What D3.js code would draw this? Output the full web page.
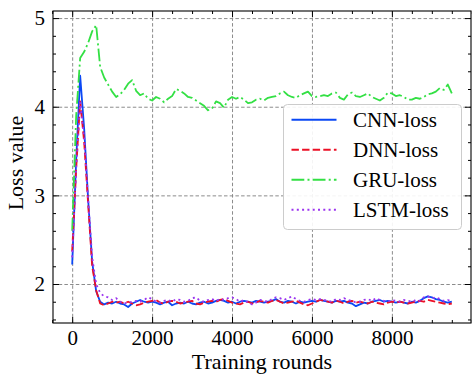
<!DOCTYPE html>
<html>
<head>
<meta charset="utf-8">
<script src="https://d3js.org/d3.v7.min.js"></script>
<style>
  body { margin: 0; background: #fff; }
  svg { display: block; font-family: "Liberation Serif", "DejaVu Serif", serif; }
</style>
</head>
<body>
<div id="chart"></div>
<script>
// training rounds, sampled every 100
const rounds = d3.range(0, 9501, 100);

const cnnLoss = [2.22, 3.40, 4.35, 3.75, 2.95, 2.25, 1.92, 1.80, 1.77, 1.79,
  1.78, 1.80, 1.78, 1.77, 1.74, 1.78, 1.80, 1.82, 1.80, 1.79,
  1.80, 1.79, 1.77, 1.79, 1.80, 1.76, 1.78, 1.79, 1.78, 1.80,
  1.78, 1.77, 1.79, 1.80, 1.78, 1.79, 1.81, 1.82, 1.81, 1.79,
  1.80, 1.78, 1.80, 1.81, 1.80, 1.79, 1.81, 1.80, 1.79, 1.80,
  1.81, 1.83, 1.80, 1.79, 1.81, 1.80, 1.78, 1.80, 1.79, 1.80,
  1.81, 1.80, 1.82, 1.81, 1.80, 1.79, 1.81, 1.80, 1.81, 1.79,
  1.78, 1.75, 1.77, 1.79, 1.78, 1.80, 1.81, 1.82, 1.80, 1.81,
  1.80, 1.79, 1.80, 1.79, 1.78, 1.80, 1.79, 1.81, 1.84, 1.86,
  1.85, 1.83, 1.82, 1.80, 1.79, 1.80];

const dnnLoss = [2.37, 3.30, 4.06, 3.60, 2.90, 2.20, 1.93, 1.78, 1.76, 1.78,
  1.80, 1.79, 1.80, 1.78, 1.80, 1.78, 1.76, 1.77, 1.79, 1.80,
  1.81, 1.82, 1.79, 1.78, 1.80, 1.81, 1.80, 1.78, 1.79, 1.80,
  1.81, 1.78, 1.77, 1.79, 1.80, 1.81, 1.80, 1.82, 1.83, 1.81,
  1.79, 1.78, 1.77, 1.79, 1.80, 1.78, 1.79, 1.81, 1.80, 1.79,
  1.81, 1.82, 1.80, 1.78, 1.79, 1.80, 1.81, 1.79, 1.77, 1.76,
  1.78, 1.80, 1.82, 1.81, 1.80, 1.79, 1.81, 1.80, 1.78, 1.80,
  1.81, 1.79, 1.80, 1.79, 1.78, 1.80, 1.79, 1.78, 1.77, 1.79,
  1.80, 1.79, 1.80, 1.79, 1.78, 1.79, 1.80, 1.81, 1.80, 1.82,
  1.81, 1.80, 1.79, 1.78, 1.77, 1.78];

const gruLoss = [2.60, 3.90, 4.55, 4.62, 4.72, 4.85, 4.92, 4.45, 4.33, 4.25,
  4.17, 4.11, 4.14, 4.19, 4.26, 4.30, 4.18, 4.13, 4.15, 4.09,
  4.07, 4.11, 4.09, 4.05, 4.09, 4.12, 4.20, 4.18, 4.15, 4.11,
  4.10, 4.07, 4.04, 4.01, 3.96, 3.98, 4.06, 4.04, 3.99, 4.08,
  4.11, 4.09, 4.11, 4.08, 4.04, 4.05, 4.08, 4.09, 4.07, 4.10,
  4.11, 4.12, 4.15, 4.17, 4.13, 4.11, 4.10, 4.13, 4.15, 4.17,
  4.12, 4.11, 4.12, 4.13, 4.12, 4.15, 4.16, 4.10, 4.08, 4.14,
  4.16, 4.12, 4.11, 4.13, 4.15, 4.11, 4.09, 4.07, 4.10, 4.16,
  4.15, 4.12, 4.13, 4.11, 4.08, 4.08, 4.10, 4.09, 4.11, 4.14,
  4.15, 4.17, 4.21, 4.19, 4.25, 4.15];

const lstmLoss = [2.30, 3.30, 4.05, 3.65, 2.95, 2.30, 2.00, 1.90, 1.86, 1.85,
  1.82, 1.84, 1.80, 1.78, 1.79, 1.80, 1.81, 1.80, 1.82, 1.85,
  1.83, 1.80, 1.79, 1.81, 1.82, 1.80, 1.83, 1.82, 1.80, 1.81,
  1.84, 1.85, 1.81, 1.80, 1.82, 1.83, 1.81, 1.83, 1.82, 1.84,
  1.85, 1.83, 1.80, 1.82, 1.79, 1.77, 1.79, 1.82, 1.81, 1.80,
  1.83, 1.85, 1.84, 1.82, 1.84, 1.86, 1.83, 1.81, 1.80, 1.82,
  1.83, 1.82, 1.83, 1.82, 1.81, 1.80, 1.83, 1.82, 1.84, 1.82,
  1.81, 1.79, 1.80, 1.82, 1.83, 1.81, 1.84, 1.82, 1.81, 1.80,
  1.82, 1.81, 1.80, 1.82, 1.81, 1.80, 1.82, 1.81, 1.85, 1.86,
  1.84, 1.85, 1.83, 1.81, 1.82, 1.80];

const seriesNames = ["CNN-loss", "DNN-loss", "GRU-loss", "LSTM-loss"];
const xTicks = [0, 2000, 4000, 6000, 8000];
const yTicks = [2, 3, 4, 5];

const width = 472, height = 375;
const pLeft = 53, pRight = 471, pTop = 11, pBottom = 323;
const serif = '"Liberation Serif", "DejaVu Serif", serif';

const series = [
  { name: seriesNames[0], values: cnnLoss, color: "#0b48f5", dash: null },
  { name: seriesNames[1], values: dnnLoss, color: "#ec1026", dash: "7.4,3.2" },
  { name: seriesNames[2], values: gruLoss, color: "#33e044", dash: "12.8,3.2,2,3.2" },
  { name: seriesNames[3], values: lstmLoss, color: "#9b33f0", dash: "2,3.3" }
];

const x = d3.scaleLinear().domain([-480, 9980]).range([pLeft, pRight]);
const y = d3.scaleLinear().domain([1.56, 5.08]).range([pBottom, pTop]);

const svg = d3.select("#chart").append("svg")
  .attr("width", width)
  .attr("height", height);

svg.append("defs").append("clipPath").attr("id", "clip")
  .append("rect")
  .attr("x", pLeft).attr("y", pTop)
  .attr("width", pRight - pLeft).attr("height", pBottom - pTop);

// grid
svg.append("g")
  .attr("transform", `translate(0,${pBottom})`)
  .call(d3.axisBottom(x).tickValues(xTicks).tickSize(-(pBottom - pTop)).tickFormat(""))
  .call(g => g.select(".domain").remove())
  .call(g => g.selectAll("line").attr("stroke", "#8c8c8c").attr("stroke-dasharray", "3.5,2.2"));

svg.append("g")
  .attr("transform", `translate(${pLeft},0)`)
  .call(d3.axisLeft(y).tickValues(yTicks).tickSize(-(pRight - pLeft)).tickFormat(""))
  .call(g => g.select(".domain").remove())
  .call(g => g.selectAll("line").attr("stroke", "#8c8c8c").attr("stroke-dasharray", "3.5,2.2"));

// lines
const line = d3.line()
  .x((d, i) => x(rounds[i]))
  .y(d => y(d));

svg.append("g").attr("clip-path", "url(#clip)")
  .selectAll("path")
  .data(series)
  .join("path")
  .attr("fill", "none")
  .attr("stroke", d => d.color)
  .attr("stroke-width", 1.8)
  .attr("stroke-dasharray", d => d.dash)
  .attr("stroke-linejoin", "round")
  .attr("d", d => line(d.values));

// ticks on all four sides, pointing inwards
const xMinor = d3.range(-500, 10001, 500).filter(v => xTicks.indexOf(v) < 0);
const yMinor = d3.range(1.6, 5.01, 0.2).map(v => +v.toFixed(1)).filter(v => yTicks.indexOf(v) < 0);

function noDomain(g) { g.select(".domain").remove(); }

const tickGroup = svg.append("g").attr("class", "ticks");

tickGroup.append("g").attr("transform", `translate(0,${pBottom})`)
  .call(d3.axisBottom(x).tickValues(xTicks).tickSize(-6).tickPadding(7).tickFormat(d3.format("d")))
  .call(noDomain);
tickGroup.append("g").attr("transform", `translate(0,${pBottom})`)
  .call(d3.axisBottom(x).tickValues(xMinor).tickSize(-3).tickFormat("")).call(noDomain);
tickGroup.append("g").attr("transform", `translate(0,${pTop})`)
  .call(d3.axisTop(x).tickValues(xTicks).tickSize(-6).tickFormat("")).call(noDomain);
tickGroup.append("g").attr("transform", `translate(0,${pTop})`)
  .call(d3.axisTop(x).tickValues(xMinor).tickSize(-3).tickFormat("")).call(noDomain);

tickGroup.append("g").attr("transform", `translate(${pLeft},0)`)
  .call(d3.axisLeft(y).tickValues(yTicks).tickSize(-6).tickPadding(8).tickFormat(d3.format("d")))
  .call(noDomain);
tickGroup.append("g").attr("transform", `translate(${pLeft},0)`)
  .call(d3.axisLeft(y).tickValues(yMinor).tickSize(-3).tickFormat("")).call(noDomain);
tickGroup.append("g").attr("transform", `translate(${pRight},0)`)
  .call(d3.axisRight(y).tickValues(yTicks).tickSize(-6).tickFormat("")).call(noDomain);
tickGroup.append("g").attr("transform", `translate(${pRight},0)`)
  .call(d3.axisRight(y).tickValues(yMinor).tickSize(-3).tickFormat("")).call(noDomain);

tickGroup.selectAll("line").attr("stroke", "#000");
tickGroup.selectAll("text")
  .style("font-family", serif)
  .style("font-size", "21px")
  .attr("fill", "#000");

// frame
svg.append("rect")
  .attr("x", pLeft).attr("y", pTop)
  .attr("width", pRight - pLeft).attr("height", pBottom - pTop)
  .attr("fill", "none").attr("stroke", "#000").attr("stroke-width", 1.1);

// axis labels
svg.append("text")
  .attr("x", (pLeft + pRight) / 2).attr("y", 369)
  .attr("text-anchor", "middle")
  .style("font-family", serif)
  .style("font-size", "22px")
  .text("Training rounds");

svg.append("text")
  .attr("transform", `translate(23,${(pTop + pBottom) / 2 - 4}) rotate(-90)`)
  .attr("text-anchor", "middle")
  .style("font-family", serif)
  .style("font-size", "22px")
  .text("Loss value");

// legend
const legend = svg.append("g").attr("transform", "translate(283,104)");
legend.append("rect")
  .attr("x", 0.5).attr("y", 0.5)
  .attr("width", 178).attr("height", 125)
  .attr("rx", 4)
  .attr("fill", "#fff").attr("fill-opacity", 0.9)
  .attr("stroke", "#cccccc").attr("stroke-width", 1);

const item = legend.selectAll("g.item")
  .data(series)
  .join("g")
  .attr("class", "item")
  .attr("transform", (d, i) => `translate(0,${15.7 + i * 30})`);

item.append("line")
  .attr("x1", 8.5).attr("x2", 53.5)
  .attr("stroke", d => d.color)
  .attr("stroke-width", 1.9)
  .attr("stroke-dasharray", d => d.dash);

item.append("text")
  .attr("x", 70).attr("y", 7)
  .style("font-family", serif)
  .style("font-size", "21px")
  .text(d => d.name);
</script>
</body>
</html>
